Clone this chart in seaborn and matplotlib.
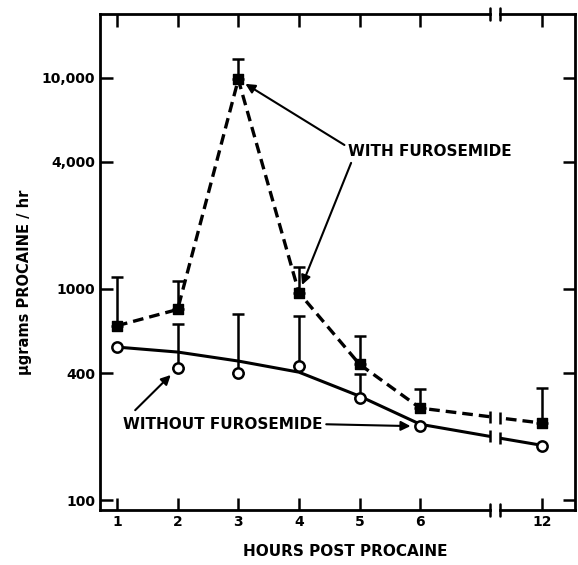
import numpy as np
import pandas as pd
import matplotlib
matplotlib.use('Agg')
import matplotlib.pyplot as plt
import seaborn as sns

# datos
hours = [1, 2, 3, 4, 5, 6, 12]
hour_labels = ['1', '2', '3', '4', '5', '6', '12']
with_furo = [670, 800, 9800, 960, 440, 273, 232]
with_furo_top = [1140, 1090, 12200, 1270, 600, 336, 340]
without_furo = [531, 422, 400, 431, 304, 224, 180]
without_furo_top = [np.nan, 682, 760, 745, 395, np.nan, np.nan]
without_fit = [531, 503, 456, 404, 311, 229, 182]

y_ticks = [100, 400, 1000, 4000, 10000]
y_tick_labels = ['100', '400', '1000', '4,000', '10,000']

sns.set_style('ticks')
plt.rcParams['font.family'] = ['DejaVu Sans']
plt.rcParams['font.weight'] = 'bold'
plt.rcParams.update({'text.color': 'black', 'axes.labelcolor': 'black',
                     'xtick.color': 'black', 'ytick.color': 'black',
                     'axes.edgecolor': 'black'})

# posicion en el eje (12 h se dibuja despues del corte)
pos = [1, 2, 3, 4, 5, 6, 8]
df = pd.DataFrame({'pos': pos, 'with': with_furo, 'with_top': with_furo_top,
                   'without': without_furo, 'without_top': without_furo_top,
                   'fit': without_fit})

fig = plt.figure(figsize=(5.78, 5.65), dpi=100)
ax1 = fig.add_axes([100 / 578, 55 / 565, 390 / 578, 496 / 565])
ax2 = fig.add_axes([500 / 578, 55 / 565, 75 / 578, 496 / 565], sharey=ax1)
ax1.patch.set_alpha(0)
ax2.patch.set_alpha(0)

lw_spine = 2.0
brk_left, brk_right = 7.15, 7.32


def draw(ax):
    # curva sin furosemida
    sns.lineplot(data=df, x='pos', y='fit', ax=ax, color='black', lw=2.2, zorder=2)
    # linea con furosemida
    sns.lineplot(data=df, x='pos', y='with', ax=ax, color='black', lw=2.4,
                 linestyle=(0, (3.2, 1.8)), zorder=2)

    # barras de error (solo hacia arriba)
    d = df.dropna(subset=['with_top'])
    ax.errorbar(d['pos'], d['with'], yerr=[np.zeros(len(d)), d['with_top'] - d['with']],
                fmt='none', ecolor='black', elinewidth=1.8, capsize=4, capthick=1.8, zorder=3)
    d = df.dropna(subset=['without_top'])
    ax.errorbar(d['pos'], d['without'], yerr=[np.zeros(len(d)), d['without_top'] - d['without']],
                fmt='none', ecolor='black', elinewidth=1.8, capsize=4, capthick=1.8, zorder=3)

    # marcadores
    ax.scatter(df['pos'], df['with'], marker='s', s=55, color='black', zorder=5)
    ax.scatter(df['pos'], df['without'], marker='o', s=55, facecolor='white',
               edgecolor='black', linewidths=1.8, zorder=5)

    ax.set_yscale('log')
    ax.set_ylim(90, 20000)
    ax.set_xlabel('')
    ax.set_ylabel('')
    ax.minorticks_off()
    ax.tick_params(direction='in', length=9, width=1.8, top=True, labelsize=10)
    for s in ax.spines.values():
        s.set_linewidth(lw_spine)


draw(ax1)
draw(ax2)

ax1.set_xlim(0.72, brk_left)
ax2.set_xlim(brk_right, 8.53)

ax1.set_xticks(pos[:6])
ax1.set_xticklabels(hour_labels[:6])
ax2.set_xticks(pos[6:])
ax2.set_xticklabels(hour_labels[6:])

ax1.set_yticks(y_ticks)
ax1.set_yticklabels(y_tick_labels)
ax1.tick_params(axis='y', right=False)
ax2.tick_params(axis='y', left=False, right=True, labelleft=False)
ax1.spines['right'].set_visible(False)
ax2.spines['left'].set_visible(False)
for lab in ax1.get_xticklabels() + ax1.get_yticklabels() + ax2.get_xticklabels():
    lab.set_fontweight('bold')

# marcas del corte en los ejes
for ax, xa in [(ax1, 1.0), (ax2, 0.0)]:
    for ya in (0.0, 1.0):
        ax.plot([xa, xa], [ya - 0.012, ya + 0.012], transform=ax.transAxes,
                color='black', lw=1.8, clip_on=False)

# marcas del corte sobre las lineas
lp = np.log10
for col in ['with', 'fit']:
    yl = 10 ** np.interp(brk_left, pos, lp(df[col]))
    yr = 10 ** np.interp(brk_right, pos, lp(df[col]))
    ax1.plot([brk_left], [yl], marker='|', ms=9, mew=1.8, color='black', clip_on=False)
    ax2.plot([brk_right], [yr], marker='|', ms=9, mew=1.8, color='black', clip_on=False)

# textos y flechas
arrow = dict(arrowstyle='-|>', color='black', lw=1.5, mutation_scale=14)
ax1.text(4.81, 4460, 'WITH FUROSEMIDE', fontsize=11, fontweight='bold', va='center',
         ha='left', zorder=10)
ax1.annotate('', xy=(3, with_furo[2]), xytext=(4.75, 4800),
             arrowprops=dict(shrinkA=0, shrinkB=6, **arrow))
ax1.annotate('', xy=(4, with_furo[3]), xytext=(4.86, 3950),
             arrowprops=dict(shrinkA=0, shrinkB=6, **arrow))

ax1.text(1.1, 229, 'WITHOUT FUROSEMIDE', fontsize=11, fontweight='bold', va='center', ha='left')
ax1.annotate('', xy=(2, without_furo[1]), xytext=(1.3, 267),
             arrowprops=dict(shrinkA=0, shrinkB=7, **arrow))
ax1.annotate('', xy=(6, without_furo[5]), xytext=(4.45, 229),
             arrowprops=dict(shrinkA=0, shrinkB=7, **arrow))

fig.text(25 / 578, 1 - 282 / 565, 'µgrams PROCAINE / hr', rotation=90,
         ha='center', va='center', fontsize=10.5, fontweight='bold')
fig.text(345 / 578, 1 - 551 / 565, 'HOURS POST PROCAINE', ha='center', va='center',
         fontsize=11, fontweight='bold')

fig.savefig('out.png', dpi=100)
